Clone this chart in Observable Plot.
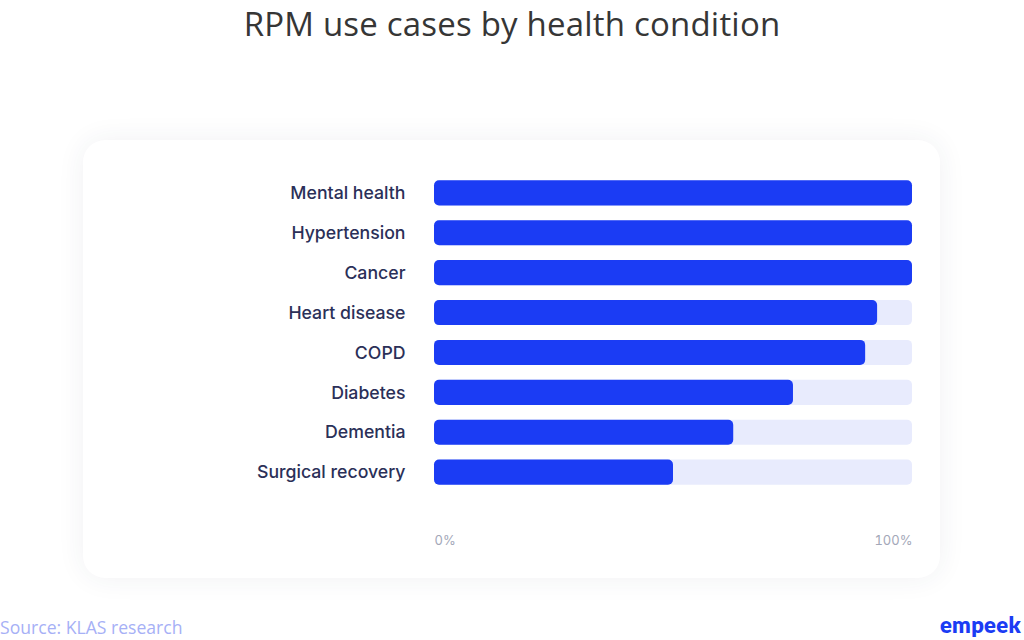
<!DOCTYPE html>
<html>
<head>
<meta charset="utf-8">
<script src="https://cdn.jsdelivr.net/npm/d3@7"></script>
<script src="https://cdn.jsdelivr.net/npm/@observablehq/plot@0.6"></script>
<style>
  html, body { margin: 0; padding: 0; background: #ffffff; }
  #page { position: relative; width: 1024px; height: 640px; overflow: hidden; background: #fff; }
  #title { position: absolute; left: 0; top: 1px; width: 1024px; text-align: center;
    font-family: "Open Sans", sans-serif; font-size: 33px; color: #363636; font-weight: 400; letter-spacing: 0.2px; }
  #card { position: absolute; left: 83px; top: 140px; width: 857px; height: 438px; background: #fff;
    border-radius: 22px; box-shadow: 0 0 28px rgba(40,50,90,0.07); }
  #chart { position: absolute; left: 83px; top: 140px; }
  #source { position: absolute; left: 0px; top: 615px; font-family: "Open Sans", sans-serif; font-size: 17.6px; color: #a6b0f6; }
  #logo { position: absolute; right: 3px; top: 611px; font-family: "Lato", sans-serif; font-weight: 800; font-size: 22px; color: #1b3cf4; letter-spacing: 0.3px; }
</style>
</head>
<body>
<div id="page">
  <div id="title">RPM use cases by health condition</div>
  <div id="card"></div>
  <div id="chart"></div>
  <div id="source">Source: KLAS research</div>
  <div id="logo">empeek</div>
</div>
<script>
const categories = ["Mental health", "Hypertension", "Cancer", "Heart disease", "COPD", "Diabetes", "Dementia", "Surgical recovery"];
const values = [100, 100, 100, 92.7, 90.2, 75.1, 62.6, 50];
const xTicks = [0, 100];
const tickLabels = ["0%", "100%"];

const data = categories.map((c, i) => ({category: c, value: values[i], full: 100}));

const chart = Plot.plot({
  width: 857,
  height: 438,
  marginLeft: 351,
  marginRight: 28,
  marginTop: 25.5,
  marginBottom: 78.5,
  style: {background: "transparent", fontFamily: "Inter, sans-serif"},
  x: {domain: [0, 100], axis: null},
  y: {domain: categories, padding: 0.37, round: false, axis: null},
  marks: [
    Plot.barX(data, {y: "category", x1: 0, x2: "full", fill: "#e8ebfd", rx: 5}),
    Plot.barX(data, {y: "category", x1: 0, x2: "value", fill: "#1b3cf4", rx: 5}),
    Plot.axisY({tickSize: 0, tickPadding: 29, fontSize: 17.7, fontWeight: 500, fill: "#2b3058", dy: 0, label: null}),
    Plot.axisX({ticks: [xTicks[0]], tickFormat: () => tickLabels[0], tickSize: 0, tickPadding: 36, textAnchor: "start", fontSize: 13, fill: "#a3a7b8", label: null}),
    Plot.axisX({ticks: [xTicks[1]], tickFormat: () => tickLabels[1], tickSize: 0, tickPadding: 36, textAnchor: "end", fontSize: 13, fill: "#a3a7b8", label: null})
  ]
});
document.getElementById("chart").appendChild(chart);
</script>
</body>
</html>
